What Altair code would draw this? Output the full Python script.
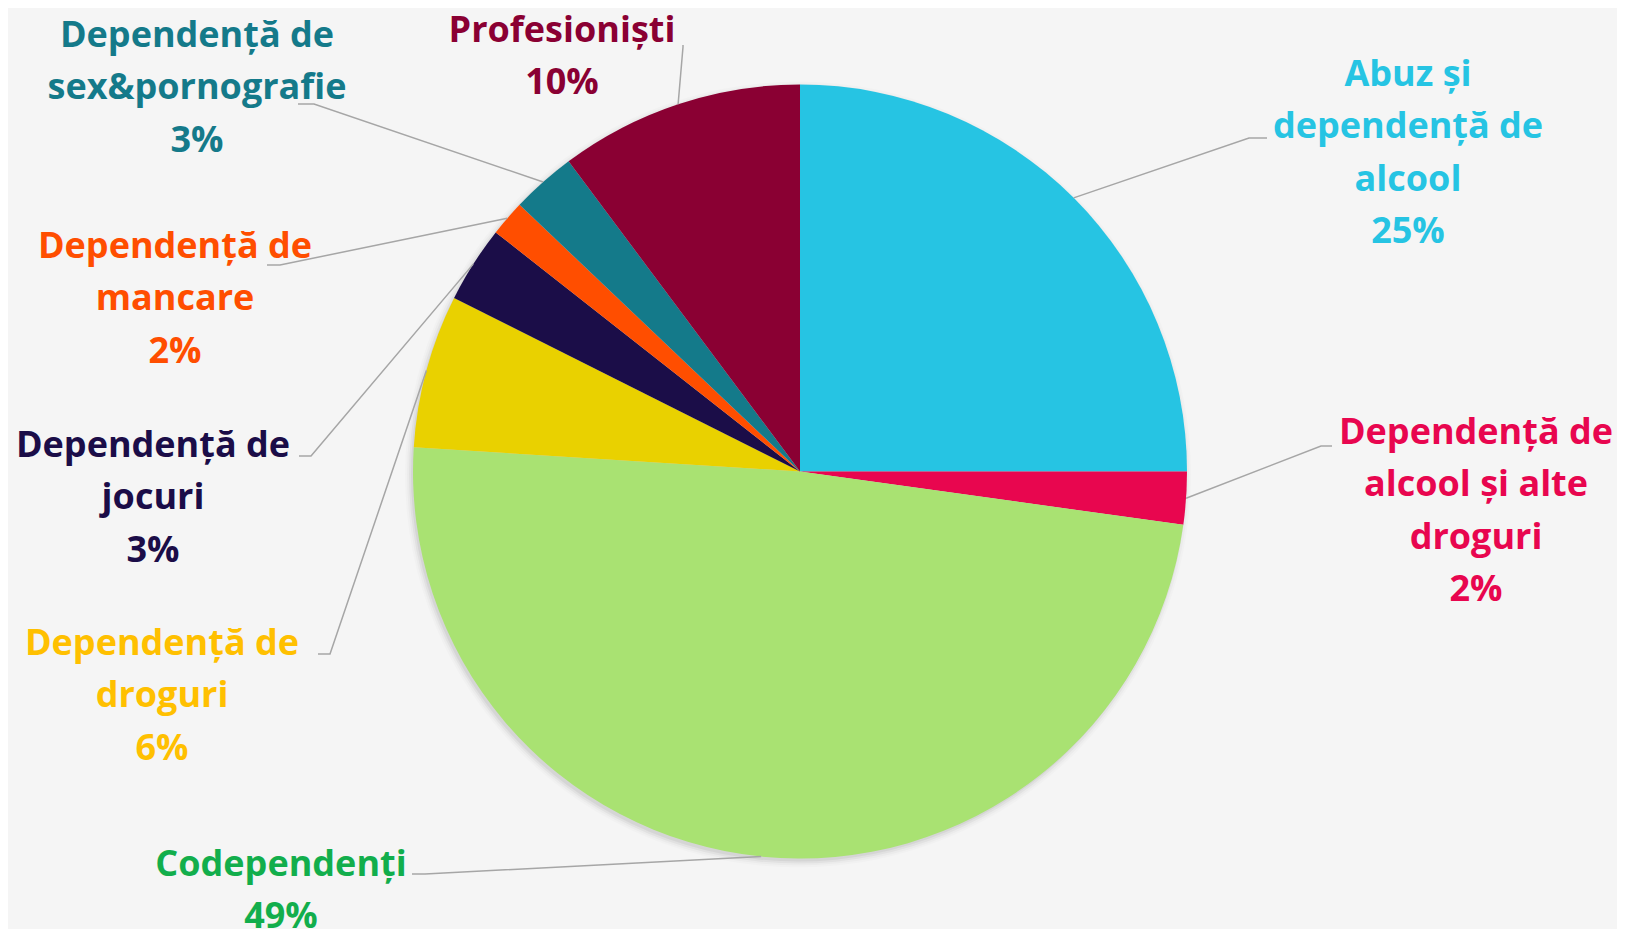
import altair as alt
import pandas as pd
import numpy as np

# ---------------- data ----------------
categories = [
    "Abuz și dependență de alcool",
    "Dependență de alcool și alte droguri",
    "Codependenți",
    "Dependență de droguri",
    "Dependență de jocuri",
    "Dependență de mancare",
    "Dependență de sex&pornografie",
    "Profesioniști",
]
values = [25.0, 2.2, 48.8, 6.4, 3.2, 1.5, 2.7, 10.2]
pct_labels = ["25%", "2%", "49%", "6%", "3%", "2%", "3%", "10%"]
name_lines = [
    ["Abuz și", "dependență de", "alcool"],
    ["Dependență de", "alcool și alte", "droguri"],
    ["Codependenți"],
    ["Dependență de", "droguri"],
    ["Dependență de", "jocuri"],
    ["Dependență de", "mancare"],
    ["Dependență de", "sex&pornografie"],
    ["Profesioniști"],
]
slice_colors = ["#26C4E3", "#E8064F", "#A9E272", "#E9D100",
                "#1B0D48", "#FF4E00", "#147A8A", "#8A0033"]
label_colors = ["#26C4E3", "#E8064F", "#12AE4C", "#FFC000",
                "#1B0D48", "#FF4E00", "#147A8A", "#8A0033"]

# ---------------- layout (page pixel coords) ----------------
label_x = [1408, 1476, 281, 162, 153, 175, 197, 562]
label_y = [86, 444, 876, 655, 457, 258, 47, 42]
elbow_x = [1249, 1321, 425, 330, 311, 280, 314, 683]
elbow_y = [138, 446, 874, 654, 456, 265, 104, 47]
end_x = [1267, 1332, 412, 318, 299, 267, 298, 683]
end_y = [138, 446, 874, 654, 456, 265, 104, 45]

OFF = 8
W, H = 1609, 921
cx, cy = 800 - OFF, 471.5 - OFF
R = 387
LINE_H = 52.3
FONT = "Open Sans"
FSIZE = 36

xs = alt.Scale(domain=[0, W], range=[0, W])
ys = alt.Scale(domain=[0, H], range=[0, H])

df = pd.DataFrame({"cat": categories, "value": values, "idx": list(range(len(values)))})

# soft shadow (a few faint discs offset down-left)
shadow_df = pd.DataFrame({"k": [1]})
shadows = []
for k, (dr, op) in enumerate([(6, 0.015), (4, 0.025), (2, 0.04), (0, 0.05)]):
    shadows.append(
        alt.Chart(shadow_df).mark_arc(
            radius=R + dr, theta=0, theta2=2 * np.pi, color="black", opacity=op
        ).encode(x=alt.value(cx - 2), y=alt.value(cy + 3))
    )

pie = alt.Chart(df).mark_arc(radius=R, strokeWidth=0).encode(
    theta=alt.Theta("value:Q", stack=True),
    color=alt.Color("cat:N", scale=alt.Scale(domain=categories, range=slice_colors), legend=None),
    order=alt.Order("idx:Q"),
    x=alt.value(cx),
    y=alt.value(cy),
)

# leader lines
tot = float(sum(values))
cum = np.cumsum([0.0] + values)
mid = (cum[:-1] + cum[1:]) / 2 / tot * 2 * np.pi
sx = cx + R * np.sin(mid)
sy = cy - R * np.cos(mid)
rows = []
for i in range(len(values)):
    rows.append({"id": i, "o": 0, "x": sx[i], "y": sy[i]})
    rows.append({"id": i, "o": 1, "x": elbow_x[i] - OFF, "y": elbow_y[i] - OFF})
    rows.append({"id": i, "o": 2, "x": end_x[i] - OFF, "y": end_y[i] - OFF})
lines_df = pd.DataFrame(rows)
leaders = alt.Chart(lines_df).mark_line(color="#A6A6A6", strokeWidth=1.5).encode(
    x=alt.X("x:Q", scale=xs, axis=None),
    y=alt.Y("y:Q", scale=ys, axis=None),
    detail="id:N",
    order="o:Q",
)

# labels
trows = []
for i in range(len(values)):
    lines = name_lines[i] + [pct_labels[i]]
    for j, t in enumerate(lines):
        trows.append({"t": t, "x": label_x[i] - OFF, "y": label_y[i] - OFF + j * LINE_H,
                      "c": label_colors[i]})
text_df = pd.DataFrame(trows)
texts = alt.Chart(text_df).mark_text(
    font=FONT, fontSize=FSIZE, fontWeight="bold", align="center", baseline="alphabetic"
).encode(
    x=alt.X("x:Q", scale=xs, axis=None),
    y=alt.Y("y:Q", scale=ys, axis=None),
    text="t:N",
    color=alt.Color("c:N", scale=None),
)

chart = alt.layer(*shadows, pie, leaders, texts).properties(
    width=W, height=H, background="#F5F5F5", padding=0,
    autosize=alt.AutoSizeParams(type="none"),
).configure_view(strokeWidth=0)

chart.save("out.html", embed_options={"renderer": "svg", "actions": False})
